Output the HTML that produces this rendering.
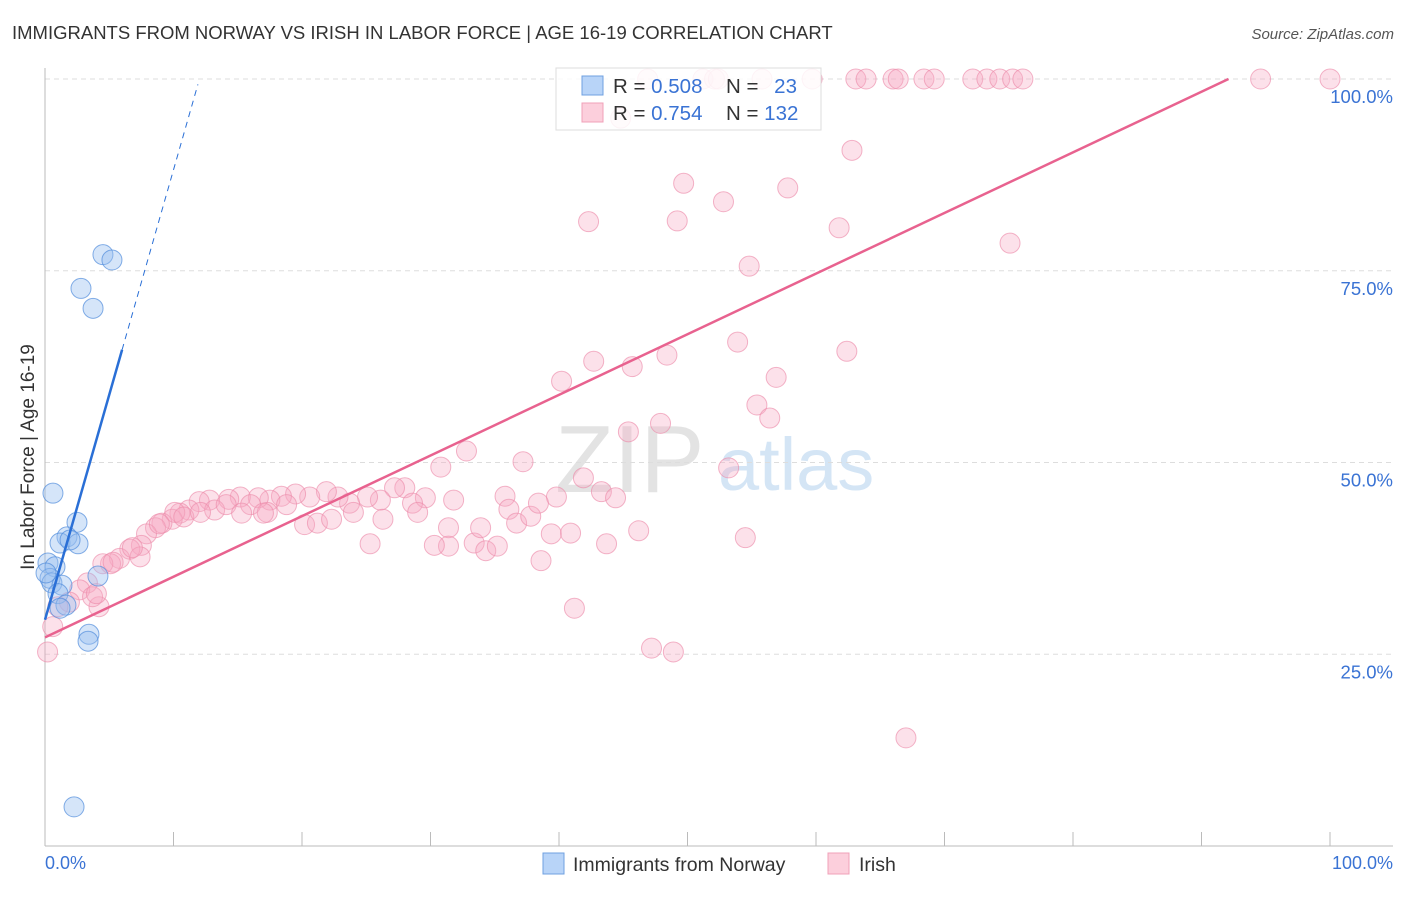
<!DOCTYPE html>
<html><head><meta charset="utf-8"><style>
body{margin:0;background:#fff;font-family:"Liberation Sans",sans-serif;}
svg text{font-family:"Liberation Sans",sans-serif;}
</style></head><body>
<svg id="chart" width="1406" height="892" viewBox="0 0 1406 892" xmlns="http://www.w3.org/2000/svg">
<text x="12" y="39" font-size="18.5" fill="#333">IMMIGRANTS FROM NORWAY VS IRISH IN LABOR FORCE | AGE 16-19 CORRELATION CHART</text>
<text x="1394" y="39" font-size="15" fill="#555" font-style="italic" text-anchor="end">Source: ZipAtlas.com</text>
<g>
<text x="555" y="492" font-size="96" fill="#d8d8d8" font-family="Liberation Serif, serif" opacity="0.7">ZIP</text>
<text x="718" y="490" font-size="74" fill="#b8d4f0" opacity="0.6">atlas</text>
</g>
<g id="grid"></g><g id="axes"></g><g id="pts"></g><g id="lines"></g>
<g>
<rect x="556" y="68" width="265" height="62" fill="#fff" fill-opacity="0.85" stroke="#ddd"/>
<rect x="582" y="76" width="21" height="19" fill="#b8d4f8" stroke="#6fa0e0"/>
<rect x="582" y="103" width="21" height="19" fill="#fccfdc" stroke="#f0a0b8"/>
<text x="613" y="93" font-size="20.5" fill="#333">R = <tspan fill="#3a73d4">0.508</tspan></text>
<text x="726" y="93" font-size="20.5" fill="#333">N = <tspan fill="#3a73d4" dx="10">23</tspan></text>
<text x="613" y="120" font-size="20.5" fill="#333">R = <tspan fill="#3a73d4">0.754</tspan></text>
<text x="726" y="120" font-size="20.5" fill="#333">N = <tspan fill="#3a73d4">132</tspan></text>
</g>
<g>
<rect x="543" y="853" width="21" height="21" fill="#b8d4f8" stroke="#6fa0e0"/>
<text x="573" y="871" font-size="19.5" fill="#333">Immigrants from Norway</text>
<rect x="828" y="853" width="21" height="21" fill="#fccfdc" stroke="#f0a0b8"/>
<text x="859" y="871" font-size="19.5" fill="#333">Irish</text>
</g>
<text transform="translate(34,457) rotate(-90)" font-size="19" fill="#333" text-anchor="middle">In Labor Force | Age 16-19</text>
</svg>
<script>
const yTicks=[25,50,75,100];
const yTickLabels=["25.0%","50.0%","75.0%","100.0%"];
const norwayX=[0.62,4.51,5.21,2.80,3.74,2.49,1.71,1.17,2.57,1.95,0.23,0.78,0.39,0.54,1.32,1.01,4.12,1.63,1.17,3.42,3.35,2.26,0.08];
const norwayY=[46.0,77.1,76.4,72.7,70.1,42.2,40.3,39.5,39.4,39.9,36.9,36.4,34.9,34.3,34.0,32.9,35.2,31.4,31.0,27.6,26.7,5.1,35.6];
const irishX=[46.9,51.2,52.1,52.4,55.8,59.7,63.1,63.9,66.0,66.4,68.4,69.2,72.2,73.3,74.3,75.3,76.1,94.6,100,44.8,62.8,49.7,57.8,42.3,49.2,52.8,61.8,75.1,54.8,53.9,42.7,48.4,62.4,45.7,40.2,56.9,55.4,56.4,45.4,47.9,30.8,32.8,37.2,53.2,41.9,43.3,44.4,39.8,35.8,31.8,29.6,28.0,27.2,26.1,25.1,23.7,22.8,21.9,20.6,19.5,18.4,17.5,16.6,15.2,14.3,12.8,12.0,11.2,10.5,9.9,9.1,8.6,7.9,7.5,6.6,5.8,5.1,4.5,3.3,2.7,1.9,1.0,0.6,0.2,4.2,3.7,7.4,6.8,10.1,10.8,13.2,14.1,16.0,17.3,18.8,20.2,21.2,22.3,24.0,26.3,28.6,29.0,31.4,31.4,30.3,33.4,33.9,34.3,35.2,36.1,36.7,37.8,38.4,39.4,38.6,40.9,41.2,43.7,46.2,47.2,48.9,54.5,67.0,25.3,17.0,15.3,12.1,8.9,4.0,5.3];
const irishY=[100,100,100,100,100,100,100,100,100,100,100,100,100,100,100,100,100,100,100,94.9,90.7,86.4,85.8,81.4,81.5,84.0,80.6,78.6,75.6,65.7,63.2,64.0,64.5,62.5,60.6,61.1,57.5,55.8,54.0,55.1,49.4,51.5,50.1,49.3,48.0,46.2,45.4,45.5,45.6,45.1,45.4,46.7,46.7,45.1,45.5,44.7,45.5,46.2,45.5,45.9,45.6,45.1,45.4,45.5,45.2,45.1,44.9,43.8,43.4,42.6,42.1,41.5,40.7,39.2,38.7,37.5,36.8,36.8,34.3,33.4,31.8,31.2,28.6,25.3,31.2,32.5,37.7,38.9,43.5,42.9,43.8,44.5,44.5,43.5,44.5,41.9,42.1,42.6,43.5,42.6,44.7,43.5,41.5,39.1,39.2,39.5,41.5,38.5,39.1,43.9,42.1,43.0,44.7,40.7,37.2,40.8,31.0,39.4,41.1,25.8,25.3,40.2,14.1,39.4,43.4,43.4,43.5,42.0,32.9,37.0];
const norwayLine=[0,29.5,6,64.7,11.9,99.3];
const irishLine=[0,27.2,92.1,100];
const NS="http://www.w3.org/2000/svg";
const X0=45,X1=1330,Y0=846,Y100=79;
const sx=v=>X0+(X1-X0)*v/100, sy=v=>Y0-(Y0-Y100)*v/100;
function mk(tag,attrs,parent){const e=document.createElementNS(NS,tag);for(const k in attrs)e.setAttribute(k,attrs[k]);document.getElementById(parent).appendChild(e);return e;}
yTicks.forEach((t,i)=>{
 const g=mk('line',{x1:45,x2:1393,y1:sy(t),y2:sy(t),stroke:'#ddd','stroke-dasharray':'5,4'},'grid');
 
 
 const l=mk('text',{x:1393,y:sy(t)+24,'font-size':18.5,fill:'#3a73d4','text-anchor':'end'},'grid');
 l.textContent=yTickLabels[i];
 
 
});
const ax=mk('line',{x1:45,x2:1393,y1:846,y2:846,stroke:'#bbb'},'axes');


const ay=mk('line',{x1:45,x2:45,y1:68,y2:846,stroke:'#bbb'},'axes');


for(let i=0;i<=10;i++){const t=mk('line',{x1:sx(i*10),x2:sx(i*10),y1:832,y2:846,stroke:'#bbb'},'axes');
 
 }
const xl0=mk('text',{x:45,y:869,'font-size':18,fill:'#3a73d4'},'axes');xl0.textContent='0.0%';


const xl1=mk('text',{x:1393,y:869,'font-size':18,fill:'#3a73d4','text-anchor':'end'},'axes');xl1.textContent='100.0%';


irishX.forEach((x,i)=>{const c=mk('circle',{cx:sx(x),cy:sy(irishY[i]),r:10,fill:'rgba(246,170,195,0.35)',stroke:'rgba(236,140,170,0.65)','stroke-width':1},'pts');
 
 });
norwayX.forEach((x,i)=>{const c=mk('circle',{cx:sx(x),cy:sy(norwayY[i]),r:10,fill:'rgba(150,190,240,0.4)',stroke:'rgba(80,140,220,0.7)','stroke-width':1},'pts');
 
 });
const bl=mk('line',{x1:sx(norwayLine[0]),y1:sy(norwayLine[1]),x2:sx(norwayLine[2]),y2:sy(norwayLine[3]),stroke:'#2a6fd6','stroke-width':2.5},'lines');


const bd=mk('line',{x1:sx(norwayLine[2]),y1:sy(norwayLine[3]),x2:sx(norwayLine[4]),y2:sy(norwayLine[5]),stroke:'#2a6fd6','stroke-width':1,'stroke-dasharray':'6,5'},'lines');


const pl=mk('line',{x1:sx(irishLine[0]),y1:sy(irishLine[1]),x2:sx(irishLine[2]),y2:sy(irishLine[3]),stroke:'#e8628f','stroke-width':2.5},'lines');


</script>
</body></html>
